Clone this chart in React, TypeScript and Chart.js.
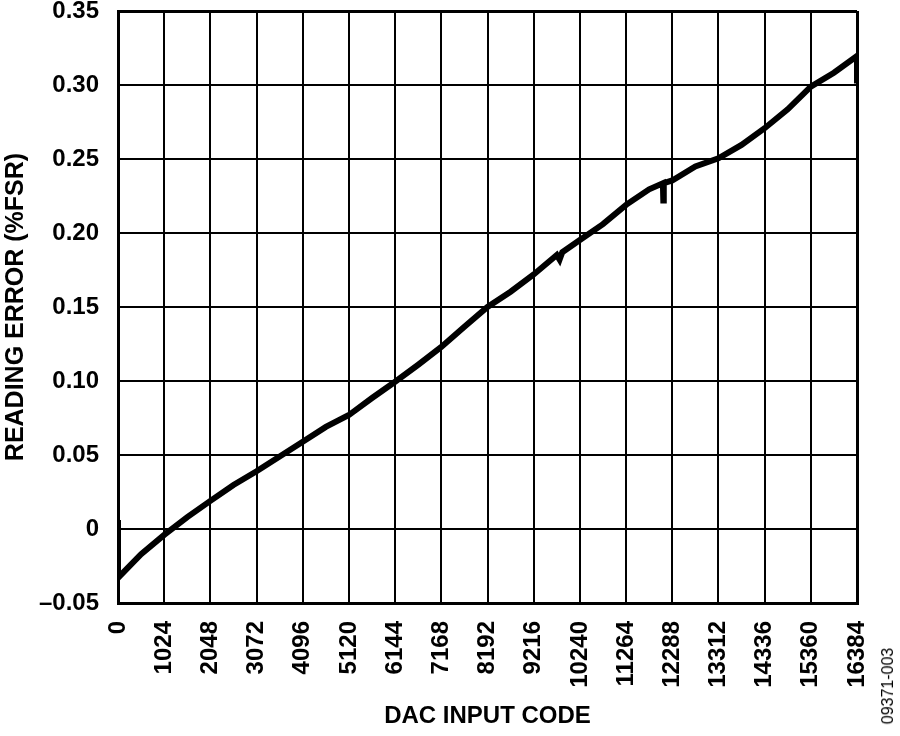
import React, { useEffect, useRef } from "react";
import Chart from "chart.js/auto";

// DAC input code (x) and reading error in %FSR (y)
const dacCodes = [
  0, 0, 512, 1024, 1536, 2048, 2560, 3072, 3584, 4096, 4608, 5120, 5632, 6144,
  6656, 7168, 7680, 8192, 8704, 9216, 9728, 9790, 9850, 10240, 10752, 11264,
  11776, 12080, 12090, 12100, 12288, 12800, 13312, 13824, 14336, 14848, 15360,
  15872, 16384, 16384,
];
const readingError = [
  0.006, -0.033, -0.017, -0.004, 0.008, 0.019, 0.0297, 0.039, 0.049, 0.059,
  0.069, 0.077, 0.0885, 0.0995, 0.111, 0.123, 0.1367, 0.15, 0.1603, 0.172,
  0.1851, 0.182, 0.187, 0.1953, 0.206, 0.219, 0.2295, 0.2336, 0.222, 0.2336,
  0.2355, 0.245, 0.2505, 0.2595, 0.2708, 0.2836, 0.2989, 0.3083, 0.3196, 0.301,
];

const xTickStep = 1024;
const xMax = 16384;
const yMin = -0.05;
const yMax = 0.35;
const yTickStep = 0.05;

const FONT = "'Liberation Sans', Arial, Helvetica, sans-serif";

const App: React.FC = () => {
  const canvasRef = useRef<HTMLCanvasElement>(null);
  const chartRef = useRef<Chart | null>(null);

  useEffect(() => {
    if (!canvasRef.current) return;
    const ctx = canvasRef.current.getContext("2d");
    if (!ctx) return;

    const points = dacCodes.map((x, i) => ({ x, y: readingError[i] }));

    chartRef.current = new Chart(ctx, {
      type: "scatter",
      data: {
        datasets: [
          {
            data: points,
            showLine: true,
            borderColor: "#000",
            backgroundColor: "#000",
            borderWidth: 6,
            pointRadius: 0,
            tension: 0,
          },
        ],
      },
      options: {
        animation: false,
        responsive: true,
        maintainAspectRatio: false,
        layout: { padding: { top: 11, right: 43, left: 0, bottom: 0 } },
        plugins: {
          legend: { display: false },
          tooltip: { enabled: false },
        },
        scales: {
          x: {
            type: "linear",
            min: 0,
            max: xMax,
            afterFit: (scale: any) => {
              scale.height = 133;
              scale.paddingLeft = 0;
              scale.paddingRight = 0;
            },
            ticks: {
              stepSize: xTickStep,
              autoSkip: false,
              minRotation: 90,
              maxRotation: 90,
              padding: 18,
              color: "#000",
              font: { family: FONT, size: 24, weight: "bold" },
              callback: (v: any) => String(v),
            },
            grid: {
              color: "#000",
              lineWidth: (c: any) =>
                c.tick && (c.tick.value === 0 || c.tick.value === xMax) ? 3 : 2,
              drawTicks: false,
            },
            border: { color: "#000", width: 3 },
            title: {
              display: true,
              text: "DAC INPUT CODE",
              color: "#000",
              font: { family: FONT, size: 24, weight: "bold" },
              padding: { top: 0, bottom: 5 },
            },
          },
          y: {
            min: yMin,
            max: yMax,
            afterFit: (scale: any) => {
              scale.width = 118;
              scale.paddingTop = 0;
              scale.paddingBottom = 0;
            },
            ticks: {
              stepSize: yTickStep,
              padding: 19,
              color: "#000",
              font: { family: FONT, size: 24, weight: "bold" },
              callback: (v: any) => {
                const n = Math.round(Number(v) * 100) / 100;
                if (n === 0) return "0";
                return n < 0 ? "\u2013" + Math.abs(n).toFixed(2) : n.toFixed(2);
              },
            },
            grid: {
              color: "#000",
              lineWidth: (c: any) =>
                c.tick &&
                (Math.abs(c.tick.value - yMin) < 1e-6 ||
                  Math.abs(c.tick.value - yMax) < 1e-6)
                  ? 3
                  : 2,
              drawTicks: false,
            },
            border: { color: "#000", width: 3 },
            title: {
              display: true,
              text: "READING ERROR (%FSR)",
              color: "#000",
              font: { family: FONT, size: 25, weight: "bold" },
              padding: { top: 1, bottom: 0 },
            },
          },
        },
      },
    });

    return () => {
      if (chartRef.current) {
        chartRef.current.destroy();
        chartRef.current = null;
      }
    };
  }, []);

  return (
    <div
      style={{
        position: "absolute",
        left: 0,
        top: 0,
        width: 900,
        height: 736,
        background: "#fff",
      }}
    >
      <canvas ref={canvasRef}></canvas>
      <div
        style={{
          position: "absolute",
          left: 888,
          top: 686,
          transform: "translate(-50%, -50%) rotate(-90deg)",
          fontFamily: FONT,
          fontSize: 16,
          color: "#000",
          whiteSpace: "nowrap",
        }}
      >
        09371-003
      </div>
    </div>
  );
};

export default App;
